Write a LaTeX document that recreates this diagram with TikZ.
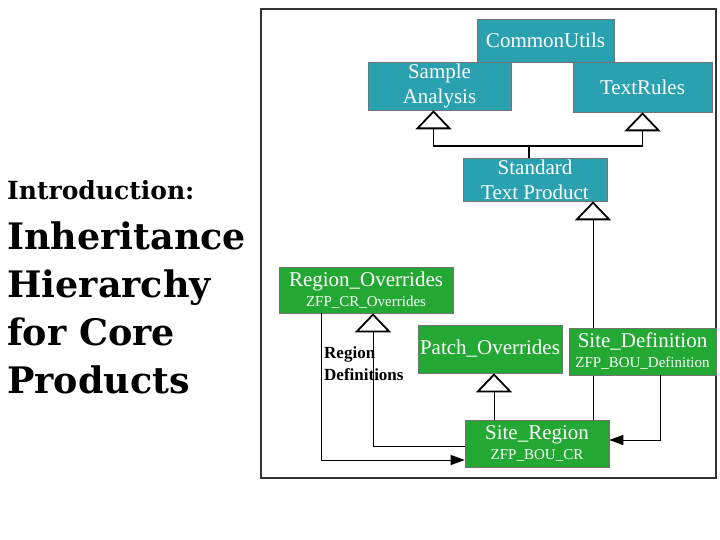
\documentclass[tikz,border=0pt]{standalone}
\usepackage{fontspec}
\setmainfont{Liberation Serif}
\newfontfamily\slabfont{DejaVu Serif}
\usetikzlibrary{arrows.meta}

\definecolor{classteal}{RGB}{41,161,176}
\definecolor{classgreen}{RGB}{34,168,51}
\newcommand{\subname}[1]{{\fontsize{15}{18}\selectfont #1}}

\begin{document}
\begin{tikzpicture}[
        x=1pt, y=-1pt,
        every node/.style={inner sep=0pt},
        coreclass/.style={fill=classteal, draw=black!55, line width=0.6pt, text=white,
            align=center, font=\fontsize{21}{25}\selectfont},
        siteclass/.style={coreclass, fill=classgreen},
        heading/.style={anchor=base west, font=\slabfont\bfseries\fontsize{36.5}{40}\selectfont},
        inherits/.style={-{Triangle[open,width=36pt,length=19pt]}, line width=1.8pt},
        inheritsthin/.style={-{Triangle[open,width=36pt,length=19pt,line width=1.8pt]}, line width=1pt},
        uses/.style={-{Triangle[width=10pt,length=14pt]}, line width=1pt}
    ]
    \useasboundingbox (0,0) rectangle (720,540);

    % title on the left
    \node[heading, font=\slabfont\bfseries\fontsize{25}{28}\selectfont] (intro) at (7,200) {Introduction:};
    \foreach \line [count=\i] in {Inheritance, Hierarchy, for Core, Products}
        \node[heading] (title\i) at (7,201+48*\i) {\line};

    % frame
    \draw[line width=1.5pt, black!80] (261,9) rectangle (716,478);

    % core classes
    \node[coreclass, minimum width=137pt, minimum height=43pt] (cu) at (545.5,40.5) {CommonUtils};
    \node[coreclass, minimum width=143pt, minimum height=48pt] (sa) at (439.5,86) {Sample\\Analysis};
    \node[coreclass, minimum width=139pt, minimum height=50pt] (tr) at (642.5,87) {TextRules};
    \node[coreclass, minimum width=144pt, minimum height=43pt] (std) at (535,179.5) {Standard\\Text Product};

    % site classes
    \node[siteclass, minimum width=174pt, minimum height=46pt] (ro) at (366,290)
        {Region\_Overrides\\[-5pt]\subname{ZFP\_CR\_Overrides}};
    \node[siteclass, minimum width=144pt, minimum height=48pt] (po) at (490,349) {Patch\_Overrides};
    \node[siteclass, minimum width=144pt, minimum height=47pt] (sr) at (537,443.5)
        {Site\_Region\\[-5pt]\subname{ZFP\_BOU\_CR}};

    \node[anchor=north west, align=left, font=\bfseries\fontsize{17}{22}\selectfont] (regdefs) at (324,346.5)
        {Region\\Definitions};

    % inheritance
    \coordinate (fork) at (529,146);
    \draw[line width=1.8pt] (fork) -- (fork |- std.north);
    \draw[inherits] (fork) -| ([xshift=-6]sa.south);
    \draw[inherits] (fork) -| (tr.south);

    \coordinate (stdtip) at ([xshift=58]std.south);
    \coordinate (potip) at ([xshift=4]po.south);
    \coordinate (rotip) at ([xshift=7]ro.south);
    \draw[inheritsthin] (sr.north -| stdtip) -- (stdtip);
    \draw[inheritsthin] (sr.north -| potip) -- (potip);
    \draw[inheritsthin] ([yshift=-2.5]sr.west) -| (rotip);

    \node[siteclass, minimum width=147pt, minimum height=47pt] (sd) at (642.5,351.5)
        {Site\_Definition\\[-5pt]\subname{ZFP\_BOU\_Definition}};

    % region and site definitions
    \coordinate (rodown) at ([xshift=-45]ro.south);
    \coordinate (sddown) at ([xshift=17.5]sd.south);
    \draw[uses] (rodown) |- ([yshift=-16.5]sr.west);
    \draw[uses] (sddown) |- ([yshift=3.5]sr.east);

\end{tikzpicture}
\end{document}
